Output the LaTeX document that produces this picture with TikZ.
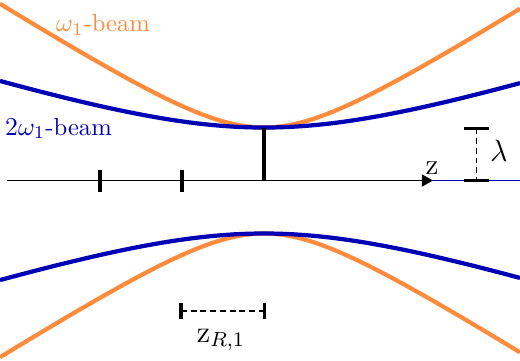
\documentclass[tikz,border=0pt]{standalone}
\usetikzlibrary{arrows.meta}
\definecolor{beamorange}{RGB}{255,140,60}
\definecolor{beamblue}{RGB}{0,0,180}
\begin{document}
\begin{tikzpicture}[x=0.39pt,y=-0.39pt,
  beam/.style={line width=1.65pt},
  tickmark/.style={line width=1.2pt},
  capmark/.style={line width=1.25pt},
  dashmark/.style={line width=0.55pt,dash pattern=on 2.3pt off 1.5pt},
  marklabel/.style={font=\fontsize{11.5}{13}\selectfont},
  beamlabel/.style={font=\fontsize{9.6}{11}\selectfont}]
\useasboundingbox (0,0) rectangle (520,360);
% beams
\draw[beam,beamorange] plot[domain=0:520,samples=120,smooth] (\x,{180.5-53*sqrt(1+((\x-264)/83)^2)});
\draw[beam,beamorange] plot[domain=0:520,samples=120,smooth] (\x,{180.5+53*sqrt(1+((\x-264)/83)^2)});
\draw[beam,beamblue] plot[domain=0:520,samples=120,smooth] (\x,{180.5-53*sqrt(1+((\x-264)/166)^2)});
\draw[beam,beamblue] plot[domain=0:520,samples=120,smooth] (\x,{180.5+53*sqrt(1+((\x-264)/166)^2)});
% axis
\coordinate (axstart) at (7,180.5);
\coordinate (axtip) at (433,180.5);
\coordinate (axend) at (520,180.5);
\draw[beamblue,line width=0.4pt] (axtip) -- (axend);
\draw[line width=0.45pt,-{Triangle[length=4.3pt,width=4.7pt]}] (axstart) -- (axtip);
\node[anchor=base,marklabel] (zlab) at (432,174) {z};
% ticks
\coordinate (t1a) at (100,169.5); \coordinate (t1b) at (100,191.5);
\coordinate (t2a) at (182,169.5); \coordinate (t2b) at (182,191.5);
\coordinate (t0a) at (264,128); \coordinate (t0b) at (264,180.5);
\draw[tickmark] (t1a) -- (t1b);
\draw[tickmark] (t2a) -- (t2b);
\draw[tickmark,line width=1.4pt] (t0a) -- (t0b);
% lambda marker
\coordinate (la) at (476.5,128.3); \coordinate (lb) at (476.5,180.3);
\draw[capmark] (464,128.3) -- (489,128.3);
\draw[capmark] (464,180.3) -- (489,180.3);
\draw[dashmark] (la) -- (lb);
\node[marklabel] (lam) at (499,151) {$\lambda$};
% zR marker
\coordinate (za) at (181,311); \coordinate (zb) at (264.3,311);
\draw[capmark] (181,302.7) -- (181,319.3);
\draw[capmark] (264.3,302.7) -- (264.3,319.3);
\draw[dashmark] (za) -- (zb);
\node[marklabel] (zr) at (221,340) {$\mathrm{z}_{R,1}$};
% labels
\node[anchor=base,beamlabel,text=beamorange] (olab) at (103,31.5) {$\omega_1$-beam};
\node[anchor=base,beamlabel,text=beamblue] (blab) at (58.5,135) {$2\omega_1$-beam};
\end{tikzpicture}
\end{document}
